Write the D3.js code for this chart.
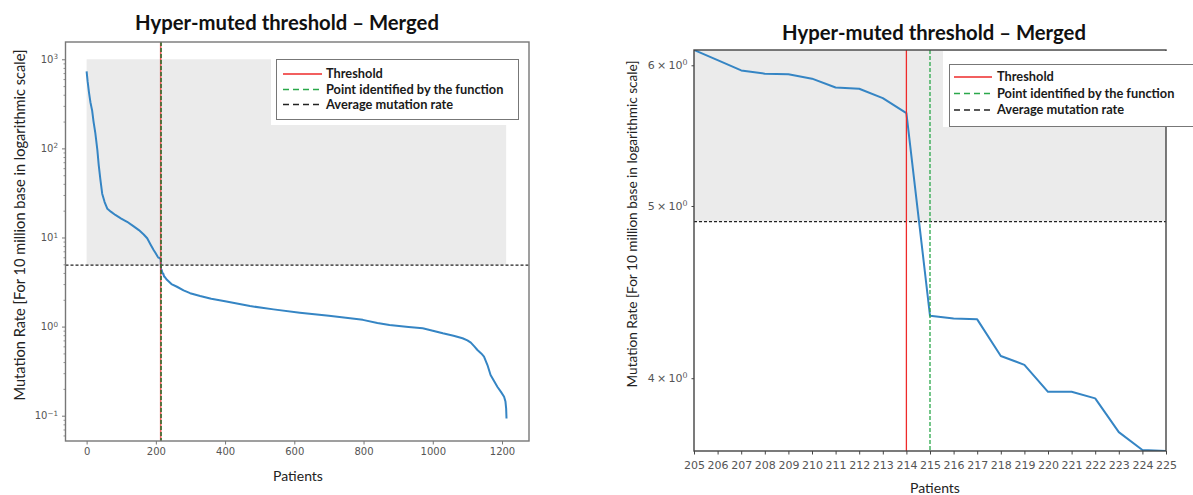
<!DOCTYPE html>
<html>
<head>
<meta charset="utf-8">
<script src="https://cdn.jsdelivr.net/npm/d3@7"></script>
<style>
  body { margin: 0; background: #fff; }
  svg { display: block; }
</style>
</head>
<body>
<svg id="fig" width="1193" height="495"></svg>
<script>
// ---- data -------------------------------------------------------------
// Sorted mutation rate (per 10 Mb) along the cohort, before the zoom window
const headPatients = [0, 3, 7, 11, 16, 20, 25, 31, 35, 40, 45, 52, 60, 70, 83, 100, 117, 135, 151, 165, 175, 185, 194, 200];
const headRates    = [730, 560, 420, 330, 265, 200, 150, 96, 65, 44, 31, 25, 21, 19.5, 17.9, 16.3, 15.0, 13.4, 12.1, 10.8, 9.8, 8.3, 7.2, 6.6];

// One value per patient in the window around the threshold (205–225)
const zoomPatients = [205, 206, 207, 208, 209, 210, 211, 212, 213, 214, 215, 216, 217, 218, 219, 220, 221, 222, 223, 224, 225];
const zoomRates    = [6.12, 6.04, 5.96, 5.935, 5.93, 5.897, 5.83, 5.82, 5.75, 5.64, 4.337, 4.322, 4.317, 4.117, 4.07, 3.93, 3.93, 3.897, 3.73, 3.645, 3.64];

// Remainder of the cohort after the window
const tailPatients = [232, 245, 261, 280, 299, 328, 360, 400, 472, 540, 616, 700, 798, 840, 875, 930, 971, 1000, 1029, 1060, 1086, 1100, 1110, 1120, 1129, 1140, 1148, 1158, 1167, 1177, 1187, 1197, 1206, 1210, 1212, 1213];
const tailRates    = [3.35, 3.0, 2.8, 2.55, 2.37, 2.2, 2.05, 1.92, 1.70, 1.56, 1.43, 1.32, 1.19, 1.10, 1.04, 0.99, 0.957, 0.9, 0.84, 0.79, 0.74, 0.70, 0.66, 0.60, 0.546, 0.50, 0.46, 0.37, 0.286, 0.245, 0.21, 0.185, 0.163, 0.144, 0.12, 0.093];

const thresholdPatient = 214;
const identifiedPatient = 215;
const averageRate = 4.9;
const shadeTopRate = 1000;
const shadeStartPatient = 0;
const shadeEndPatient = 1212;

const leftXTicks = [0, 200, 400, 600, 800, 1000, 1200];
const leftYTicks = [0.1, 1, 10, 100, 1000];
const rightXTicks = d3.range(205, 226);
const rightYTicks = [4, 5, 6];

const titleText = "Hyper-muted threshold \u2013 Merged";
const xLabelText = "Patients";
const yLabelText = "Mutation Rate [For 10 million base in logarithmic scale]";
const legendLabels = ["Threshold", "Point identified by the function", "Average mutation rate"];

// ---- styles -----------------------------------------------------------
const LINE_BLUE = "#3585c4";
const RED = "#ee2a2a";
const GREEN = "#2aa84a";
const SHADE = "#ebebeb";
const TICK_FONT = "'DejaVu Sans', sans-serif";
const LABEL_FONT = "Lato, 'Open Sans', sans-serif";

const svg = d3.select("#fig");

const fullSeries = headPatients.map((p, i) => ({ p, v: headRates[i] }))
  .concat(zoomPatients.map((p, i) => ({ p, v: zoomRates[i] })))
  .concat(tailPatients.map((p, i) => ({ p, v: tailRates[i] })));
const zoomSeries = zoomPatients.map((p, i) => ({ p, v: zoomRates[i] }));

// Writes "10^k" or "m × 10^k" as text with a raised exponent
function powerLabel(textSel, v, withMantissa) {
  const k = Math.floor(Math.log10(v) + 1e-9);
  const m = Math.round(v / Math.pow(10, k));
  textSel.text(null);
  const base = withMantissa ? `${m}\u2009\u00d7\u200910` : "10";
  textSel.append("tspan").text(base);
  textSel.append("tspan")
    .attr("dy", "-0.5em")
    .attr("font-size", "0.72em")
    .text(k < 0 ? "\u2212" + Math.abs(k) : String(k));
}

function drawLegendRows(g, lg) {
  const styles = [
    { color: RED, dash: null },
    { color: GREEN, dash: "6,4" },
    { color: "#222", dash: "6,4" }
  ];
  legendLabels.forEach((label, i) => {
    const ry = lg.rowY[i];
    g.append("line")
      .attr("x1", lg.lineX0).attr("x2", lg.lineX1)
      .attr("y1", ry).attr("y2", ry)
      .attr("stroke", styles[i].color).attr("stroke-width", 1.5)
      .attr("stroke-dasharray", styles[i].dash);
    g.append("text")
      .attr("x", lg.textX).attr("y", ry).attr("dy", "0.35em")
      .attr("font-family", LABEL_FONT).attr("font-weight", 700)
      .attr("font-size", lg.fontSize).attr("fill", "#1a1a1a")
      .text(label);
  });
}

function drawPanel(cfg) {
  const g = svg.append("g");
  const x = d3.scaleLinear().domain(cfg.xDomain).range([cfg.left, cfg.right]);
  const y = d3.scaleLog().domain(cfg.yDomain).range([cfg.bottom, cfg.top]);

  const clipId = "clip-" + cfg.id;
  svg.append("clipPath").attr("id", clipId)
    .append("rect")
    .attr("x", cfg.left).attr("y", cfg.top)
    .attr("width", cfg.right - cfg.left).attr("height", cfg.bottom - cfg.top);

  const plot = g.append("g").attr("clip-path", `url(#${clipId})`);

  // shaded band above the average rate
  const sx0 = x(cfg.shadeFrom), sx1 = x(cfg.shadeTo);
  plot.append("rect")
    .attr("x", sx0).attr("width", sx1 - sx0)
    .attr("y", y(shadeTopRate)).attr("height", y(averageRate) - y(shadeTopRate))
    .attr("fill", SHADE);

  // average mutation rate
  plot.append("line")
    .attr("x1", cfg.left).attr("x2", cfg.right)
    .attr("y1", y(averageRate)).attr("y2", y(averageRate))
    .attr("stroke", "#222").attr("stroke-width", 1.3)
    .attr("stroke-dasharray", "3,2");

  // sorted rates
  plot.append("path")
    .datum(cfg.series)
    .attr("fill", "none")
    .attr("stroke", LINE_BLUE)
    .attr("stroke-width", cfg.lineWidth)
    .attr("stroke-linejoin", "round")
    .attr("d", d3.line().x(d => x(d.p)).y(d => y(d.v)));

  // threshold and identified point
  plot.append("line")
    .attr("x1", x(thresholdPatient)).attr("x2", x(thresholdPatient))
    .attr("y1", cfg.top).attr("y2", cfg.bottom)
    .attr("stroke", RED).attr("stroke-width", cfg.vWidth).attr("opacity", cfg.redOpacity);
  plot.append("line")
    .attr("x1", x(identifiedPatient)).attr("x2", x(identifiedPatient))
    .attr("y1", cfg.top).attr("y2", cfg.bottom)
    .attr("stroke", cfg.greenColor).attr("stroke-width", cfg.vWidth)
    .attr("stroke-dasharray", "4,2");

  const lg = cfg.legend;
  if (!lg.coverFrame) {
    g.append("rect")
      .attr("x", lg.bgX).attr("y", lg.bgY).attr("width", lg.bgW).attr("height", lg.bgH)
      .attr("fill", "#fff");
    g.append("rect")
      .attr("x", lg.x).attr("y", lg.y).attr("width", lg.w).attr("height", lg.h)
      .attr("fill", "#fff").attr("stroke", "#777").attr("stroke-width", 1);
    drawLegendRows(g, lg);
  }

  // axes
  const xAxis = d3.axisBottom(x).tickValues(cfg.xTicks).tickFormat(d3.format("d"))
    .tickSize(3.5).tickPadding(cfg.xTickPad);
  const gx = g.append("g").attr("transform", `translate(0,${cfg.bottom})`).call(xAxis);
  gx.select(".domain").remove();
  gx.selectAll("line").attr("stroke", cfg.spine).attr("stroke-width", 1);
  gx.selectAll("text").attr("font-family", TICK_FONT).attr("font-size", cfg.tickFont).attr("fill", "#555");

  if (cfg.minorY) {
    const [lo, hi] = cfg.yDomain;
    const minor = [];
    for (let k = Math.floor(Math.log10(lo)); k <= Math.ceil(Math.log10(hi)); k++) {
      for (let m = 2; m <= 9; m++) {
        const v = m * Math.pow(10, k);
        if (v > lo && v < hi) minor.push(v);
      }
    }
    const gm = g.append("g").attr("transform", `translate(${cfg.left},0)`)
      .call(d3.axisLeft(y).tickValues(minor).tickSize(2).tickFormat(""));
    gm.select(".domain").remove();
    gm.selectAll("line").attr("stroke", cfg.spine).attr("stroke-width", 0.8);
  }

  const yAxis = d3.axisLeft(y).tickValues(cfg.yTicks).tickSize(cfg.yTickSize).tickPadding(4).tickFormat("");
  const gy = g.append("g").attr("transform", `translate(${cfg.left},0)`).call(yAxis);
  gy.select(".domain").remove();
  gy.selectAll("line").attr("stroke", cfg.spine).attr("stroke-width", 1);
  gy.selectAll(".tick text")
    .attr("font-family", TICK_FONT).attr("font-size", cfg.tickFont).attr("fill", "#555")
    .each(function (d) { powerLabel(d3.select(this), d, cfg.mantissa); });

  // frame
  g.append("rect")
    .attr("x", cfg.left).attr("y", cfg.top)
    .attr("width", cfg.right - cfg.left).attr("height", cfg.bottom - cfg.top)
    .attr("fill", "none").attr("stroke", cfg.spine).attr("stroke-width", 1.4);

  // legend whose white backing sits over the right edge of the frame
  if (lg.coverFrame) {
    g.append("rect")
      .attr("x", lg.bgX).attr("y", lg.bgY).attr("width", lg.bgW).attr("height", lg.bgH)
      .attr("fill", "#fff");
    g.append("rect")
      .attr("x", lg.x).attr("y", lg.y).attr("width", lg.w).attr("height", lg.h)
      .attr("fill", "#fff").attr("stroke", "#777").attr("stroke-width", 1);
    drawLegendRows(g, lg);
  }

  // title and axis labels
  g.append("text")
    .attr("x", cfg.titleX).attr("y", cfg.titleY)
    .attr("text-anchor", "middle")
    .attr("font-family", LABEL_FONT).attr("font-weight", 700)
    .attr("font-size", cfg.titleFont).attr("fill", "#111")
    .text(titleText);
  g.append("text")
    .attr("x", cfg.xLabelX).attr("y", cfg.xLabelY)
    .attr("text-anchor", "middle")
    .attr("font-family", LABEL_FONT).attr("font-size", cfg.labelFont).attr("fill", "#222")
    .text(xLabelText);
  g.append("text")
    .attr("transform", `translate(${cfg.yLabelX},${cfg.yLabelY}) rotate(-90)`)
    .attr("text-anchor", "middle")
    .attr("font-family", LABEL_FONT).attr("font-size", cfg.yLabelFont).attr("fill", "#222")
    .text(yLabelText);
}

// full cohort
drawPanel({
  id: "left",
  left: 65.5, right: 529, top: 42, bottom: 441,
  xDomain: [-61, 1278], yDomain: [0.052, 1563],
  series: fullSeries, lineWidth: 2,
  shadeFrom: shadeStartPatient, shadeTo: shadeEndPatient,
  xTicks: leftXTicks, yTicks: leftYTicks, yTickSize: 3.5, minorY: true, mantissa: false,
  tickFont: 10, xTickPad: 3, spine: "#777",
  vWidth: 1.6, redOpacity: 0.75, greenColor: "#2f6e2f",
  legend: {
    bgX: 271, bgY: 44, bgW: 256, bgH: 81, coverFrame: false,
    x: 276.5, y: 59.5, w: 242, h: 60,
    lineX0: 283, lineX1: 322, textX: 326, rowY: [74, 89.5, 104.5], fontSize: 12.8
  },
  titleX: 287, titleY: 30, titleFont: 20.3,
  xLabelX: 298, xLabelY: 481, labelFont: 14,
  yLabelX: 25, yLabelY: 225, yLabelFont: 14.6
});

// window around the threshold
drawPanel({
  id: "right",
  left: 694, right: 1166, top: 50, bottom: 451,
  xDomain: [205, 225], yDomain: [3.64, 6.12],
  series: zoomSeries, lineWidth: 2,
  shadeFrom: 205, shadeTo: 225,
  xTicks: rightXTicks, yTicks: rightYTicks, yTickSize: 2.5, minorY: false, mantissa: true,
  tickFont: 11, xTickPad: 6.5, spine: "#444",
  vWidth: 1.3, redOpacity: 1, greenColor: GREEN,
  legend: {
    bgX: 943, bgY: 51, bgW: 250, bgH: 76, coverFrame: true,
    x: 949.5, y: 64.5, w: 250, h: 62,
    lineX0: 954, lineX1: 992, textX: 997, rowY: [77, 93.5, 110], fontSize: 12.8
  },
  titleX: 934, titleY: 40, titleFont: 20.3,
  xLabelX: 935, xLabelY: 493, labelFont: 14,
  yLabelX: 636.5, yLabelY: 224, yLabelFont: 13.6
});
</script>
</body>
</html>
